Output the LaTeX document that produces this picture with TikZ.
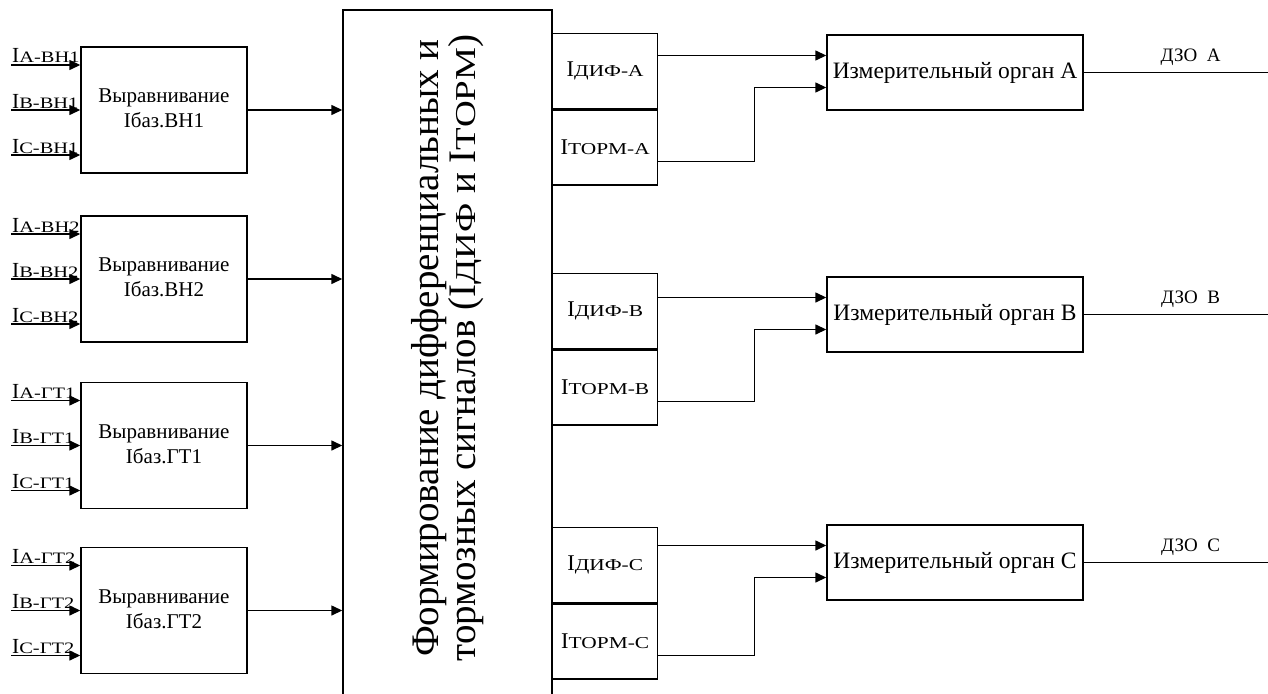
\documentclass[tikz,border=0pt]{standalone}
\usepackage{fontspec}
\setmainfont{Liberation Serif}
\usepackage{graphicx}
\usetikzlibrary{arrows.meta, positioning}

% current symbol with a small-caps index
\newcommand{\Isub}[1]{I\scalebox{0.95}[0.74]{#1}}

\tikzset{
  box/.style={draw, line width=1.4pt, inner sep=0pt},
  alignbox/.style={box, minimum width=166pt, minimum height=126pt,
    font=\fontsize{21}{25}\selectfont},
  sigbox/.style={box, minimum width=105pt, minimum height=75pt,
    font=\fontsize{22.5}{26}\selectfont},
  organbox/.style={box, minimum width=256pt, minimum height=75pt,
    font=\fontsize{23.5}{28}\selectfont},
  inlabel/.style={font=\fontsize{21.5}{24}\selectfont, anchor=base west, inner sep=0pt},
  arr/.style={line width=1.4pt, -{Triangle[length=11pt,width=10pt]}},
  wire/.style={line width=1.4pt},
}

\begin{document}
\begin{tikzpicture}[x=1pt,y=1pt]
  \useasboundingbox (0,0) rectangle (1268,-693);
  \coordinate (rim) at (1268,0);

  % Main forming block
  \node[box, minimum width=209pt, minimum height=700pt] (main) at (447.5,-360) {};
  \node[rotate=90, align=center, font=\fontsize{39}{37}\selectfont] (mainText)
    at (447.5,-348) {Формирование дифференциальных и\\
      тормозных сигналов (\Isub{ДИФ} и \Isub{ТОРМ})};

  % Alignment blocks with their inputs
  \foreach \n/\y/\t in {1/110/ВН1, 2/279/ВН2, 3/445.5/ГТ1, 4/610.5/ГТ2} {
    \node[alignbox] (align\n) at (164,-\y)
      {\raisebox{7pt}{\begin{tabular}{@{}c@{}}Выравнивание\\Iбаз.\t\end{tabular}}};
    \draw[arr] (align\n.east) -- (align\n.east -| main.west);
    \foreach \ph/\dy in {A/45, B/0, C/-45} {
      \coordinate (in\n\ph) at (11,{-\y+\dy});
      \draw[arr] (in\n\ph) -- (in\n\ph -| align\n.west);
      \node[inlabel] (lab\n\ph) at ([xshift=1pt, yshift=2pt]in\n\ph) {\Isub{\ph-\t}};
    }
  }

  % Signal blocks and measuring units
  \foreach \p/\top/\oy in {A/33/72.5, B/273/314.5, C/527/562.5} {
    \node[sigbox, anchor=north west] (dif\p) at (552,-\top) {\Isub{ДИФ-\p}};
    \node[sigbox, below=0pt of dif\p] (torm\p) {\Isub{ТОРМ-\p}};
    \node[organbox] (organ\p) at (955,-\oy) {Измерительный орган \p};
    \draw[arr] ([yshift=17]organ\p.west -| dif\p.east) -- ([yshift=17]organ\p.west);
    \draw[arr] ([yshift=-14]torm\p.east) -- ++(96,0) |- ([yshift=-15]organ\p.west);
    \draw[wire] (organ\p.east) -- (organ\p.east -| rim)
      node[pos=0.58, above=3pt, font=\fontsize{19}{21}\selectfont] (dzo\p) {ДЗО\ \ \p};
  }
\end{tikzpicture}
\end{document}
